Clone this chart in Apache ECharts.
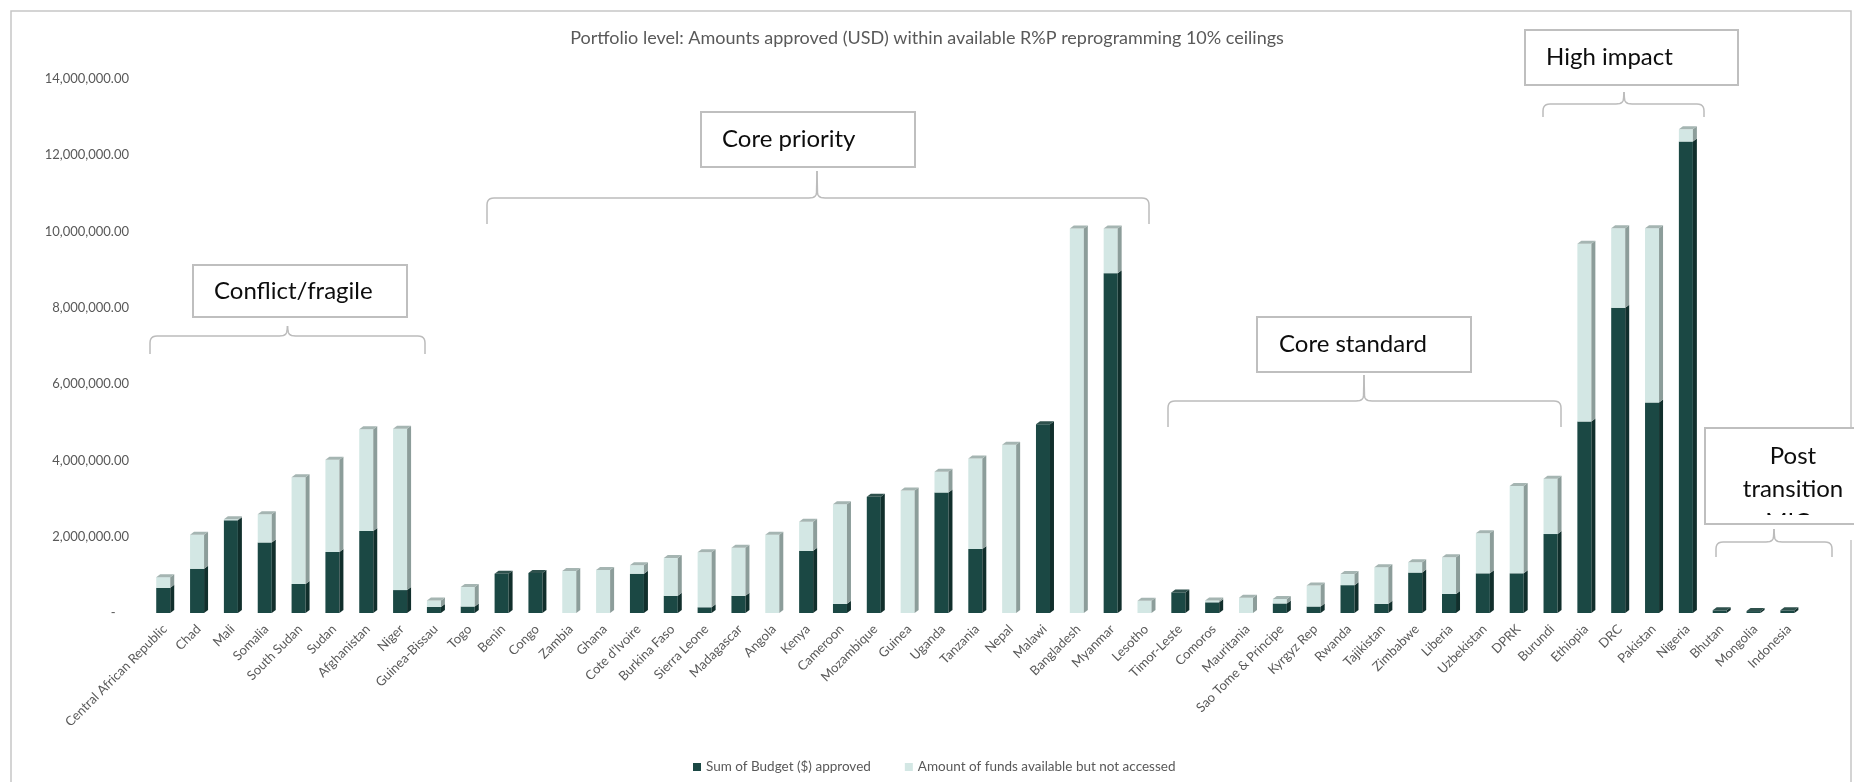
<!DOCTYPE html>
<html>
<head>
<meta charset="utf-8">
<title>Portfolio level: Amounts approved (USD)</title>
<script src="https://cdn.jsdelivr.net/npm/echarts@6/dist/echarts.min.js"></script>
<style>
  html, body { margin: 0; padding: 0; background: #ffffff; }
  #chart { width: 1854px; height: 782px; }
</style>
</head>
<body>
<div id="chart"></div>
<script>
// Countries, ordered by portfolio group
const countries = [
  'Central African Republic', 'Chad', 'Mali', 'Somalia', 'South Sudan', 'Sudan', 'Afghanistan', 'Niger',
  'Guinea-Bissau', 'Togo', 'Benin', 'Congo', 'Zambia', 'Ghana', "Cote d'Ivoire", 'Burkina Faso',
  'Sierra Leone', 'Madagascar', 'Angola', 'Kenya', 'Cameroon', 'Mozambique', 'Guinea', 'Uganda',
  'Tanzania', 'Nepal', 'Malawi', 'Bangladesh', 'Myanmar', 'Lesotho', 'Timor-Leste', 'Comoros',
  'Mauritania', 'Sao Tome & Principe', 'Kyrgyz Rep', 'Rwanda', 'Tajikistan', 'Zimbabwe', 'Liberia',
  'Uzbekistan', 'DPRK', 'Burundi', 'Ethiopia', 'DRC', 'Pakistan', 'Nigeria', 'Bhutan', 'Mongolia', 'Indonesia'
];

// Sum of Budget ($) approved
const budgetApproved = [
  660000, 1160000, 2430000, 1850000, 760000, 1600000, 2150000, 600000,
  160000, 170000, 1030000, 1050000, 0, 0, 1030000, 450000,
  150000, 450000, 0, 1630000, 240000, 3050000, 0, 3160000,
  1680000, 0, 4950000, 0, 8910000, 0, 540000, 280000,
  0, 250000, 170000, 730000, 240000, 1060000, 500000,
  1040000, 1040000, 2070000, 5020000, 8000000, 5520000, 12360000, 70000, 50000, 70000
];

// Amount of funds available but not accessed
const fundsNotAccessed = [
  280000, 890000, 30000, 740000, 2800000, 2420000, 2670000, 4230000,
  170000, 510000, 0, 0, 1100000, 1130000, 220000, 990000,
  1440000, 1260000, 2050000, 760000, 2610000, 0, 3210000, 540000,
  2370000, 4410000, 0, 10080000, 1170000, 320000, 0, 50000,
  400000, 120000, 550000, 290000, 960000, 270000, 960000,
  1050000, 2290000, 1450000, 4660000, 2090000, 4570000, 320000, 0, 0, 0
];

// Y axis tick range
const yMin = 0;
const yMax = 14000000;
const yStep = 2000000;

// Portfolio group annotations: label lines, box and brace geometry
const groups = [
  { lines: ['Conflict/fragile'], box: [193, 265, 214, 52], textX: 214, align: 'left',
    brace: { x1: 150, x2: 425, tip: 287.5, top: 336, hook: 354, peak: 326 } },
  { lines: ['Core priority'], box: [701, 112, 214, 55], textX: 722, align: 'left',
    brace: { x1: 487, x2: 1149, tip: 817, top: 198, hook: 224, peak: 171 } },
  { lines: ['Core standard'], box: [1257, 317, 214, 55], textX: 1279, align: 'left',
    brace: { x1: 1168, x2: 1561, tip: 1364, top: 401, hook: 427, peak: 375 } },
  { lines: ['High impact'], box: [1525, 30, 213, 55], textX: 1546, align: 'left',
    brace: { x1: 1543, x2: 1704, tip: 1624, top: 104, hook: 117, peak: 92 } },
  { lines: ['Post', 'transition', 'MICs'], box: [1705, 428, 160, 96], textX: 1793, align: 'center',
    brace: { x1: 1716, x2: 1832, tip: 1774, top: 542, hook: 557, peak: 529 } }
];

const COLORS = {
  dark: { front: '#1b4844', side: '#112f2c', top: '#2f514d' },
  light: { front: '#d3e7e4', side: '#8c9d9a', top: '#a5b5b2' }
};

// points along a quadratic curve from a through control b to c
function quad(a, b, c, n) {
  const pts = [];
  for (let i = 1; i <= n; i++) {
    const t = i / n, u = 1 - t;
    pts.push([u * u * a[0] + 2 * u * t * b[0] + t * t * c[0], u * u * a[1] + 2 * u * t * b[1] + t * t * c[1]]);
  }
  return pts;
}

// one half of a curly brace, from an outer end to the central peak
function braceHalf(b, dir) {
  const r = 7, t = 5;
  const xe = dir < 0 ? b.x1 : b.x2;
  const s = dir < 0 ? 1 : -1;
  let pts = [[xe, b.hook], [xe, b.top + r]];
  pts = pts.concat(quad([xe, b.top + r], [xe, b.top], [xe + s * r, b.top], 6));
  pts.push([b.tip - s * (t + 3), b.top]);
  pts = pts.concat(quad([b.tip - s * (t + 3), b.top], [b.tip - s * 1, b.top], [b.tip - s * 0.5, b.top - t], 6));
  pts.push([b.tip, b.peak]);
  return pts;
}

// 3D-looking column segment: front face, right side face, and top face on the upper segment
function columnRenderer(palette) {
  return function (params, api) {
    const idx = api.value(0);
    const start = api.value(1);
    const end = api.value(2);
    const isTop = api.value(3) === 1;
    if (end - start <= 0) return null;
    const bw = api.size([1, 0])[0];
    const p0 = api.coord([idx, start]);
    const p1 = api.coord([idx, end]);
    const c = p0[0];
    const x0 = c - bw * 0.257;
    const x1 = c + bw * 0.157;
    const d = bw * 0.118;
    const dy = 3;
    const children = [
      { type: 'rect', shape: { x: x0, y: p1[1], width: x1 - x0, height: p0[1] - p1[1] },
        style: { fill: palette.front } },
      { type: 'polygon', shape: { points: [[x1, p0[1]], [x1, p1[1]], [x1 + d, p1[1] - dy], [x1 + d, p0[1] - dy]] },
        style: { fill: palette.side } }
    ];
    if (isTop) {
      children.push({ type: 'polygon',
        shape: { points: [[x0, p1[1]], [x1, p1[1]], [x1 + d, p1[1] - dy], [x0 + d, p1[1] - dy]] },
        style: { fill: palette.top } });
    }
    return { type: 'group', children: children };
  };
}

const darkData = countries.map((_, i) => [i, 0, budgetApproved[i], fundsNotAccessed[i] > 0 ? 0 : 1]);
const lightData = countries.map((_, i) => [i, budgetApproved[i], budgetApproved[i] + fundsNotAccessed[i], 1]);

function formatAmount(v) {
  if (v === 0) return '-    ';
  return v.toLocaleString('en-US', { minimumFractionDigits: 2, maximumFractionDigits: 2 });
}

const graphics = [
  { type: 'rect', shape: { x: 11, y: 11, width: 1840, height: 800 },
    style: { fill: 'none', stroke: '#c6c6c6', lineWidth: 1.5 }, z: 0, silent: true }
];
groups.forEach(g => {
  const [bx, by, bwid, bh] = g.box;
  graphics.push({ type: 'rect', shape: { x: bx, y: by, width: bwid, height: bh },
    style: { fill: '#ffffff', stroke: 'none' }, z: 10, silent: true });
  const lineH = 33;
  const firstY = g.lines.length > 1 ? by + 28 : by + bh / 2;
  g.lines.forEach((ln, k) => {
    graphics.push({ type: 'text', x: g.textX, y: firstY + k * lineH,
      style: { text: ln, font: '24px Lato', fill: '#0d0d0d', textAlign: g.align, textVerticalAlign: 'middle' },
      z: 11, silent: true });
  });
  if (g.lines.length > 2) {
    // the box is too short for its last line; only its top shows
    graphics.push({ type: 'rect', shape: { x: bx + 1, y: by + 87, width: bwid, height: bh - 87 + 16 },
      style: { fill: '#ffffff' }, z: 12, silent: true });
  }
  graphics.push({ type: 'rect', shape: { x: bx, y: by, width: bwid, height: bh },
    style: { fill: 'none', stroke: '#bfbfbf', lineWidth: 2 }, z: 13, silent: true });
  [-1, 1].forEach(dir => {
    graphics.push({ type: 'polyline', shape: { points: braceHalf(g.brace, dir) },
      style: { fill: 'none', stroke: '#bcbcbc', lineWidth: 1.5 }, z: 14, silent: true });
  });
});

const chart = echarts.init(document.getElementById('chart'), null, { renderer: 'canvas' });
chart.setOption({
  animation: false,
  backgroundColor: '#ffffff',
  textStyle: { fontFamily: 'Lato' },
  title: {
    text: 'Portfolio level: Amounts approved (USD) within available R%P reprogramming 10% ceilings',
    left: 'center', top: 24,
    textStyle: { fontSize: 18, fontWeight: 'normal', color: '#595959', fontFamily: 'Lato' }
  },
  legend: {
    left: 688, top: 755,
    icon: 'rect', itemWidth: 8, itemHeight: 8, itemGap: 34,
    textStyle: { fontSize: 13.5, color: '#595959', fontFamily: 'Lato' },
    data: [
      { name: 'Sum of Budget ($) approved', itemStyle: { color: COLORS.dark.front } },
      { name: 'Amount of funds available but not accessed', itemStyle: { color: COLORS.light.front } }
    ]
  },
  grid: { left: 148, right: 48, top: 79, bottom: 169 },
  xAxis: {
    type: 'category',
    data: countries,
    axisLine: { show: false },
    axisTick: { show: false },
    axisLabel: { interval: 0, rotate: 45, margin: 14, fontSize: 13, color: '#595959', fontFamily: 'Lato' }
  },
  yAxis: {
    type: 'value',
    min: yMin, max: yMax, interval: yStep,
    splitLine: { show: false },
    axisLine: { show: false },
    axisTick: { show: false },
    axisLabel: { margin: 19, fontSize: 13, color: '#595959', fontFamily: 'Lato', formatter: formatAmount }
  },
  series: [
    { name: 'Sum of Budget ($) approved', type: 'custom', renderItem: columnRenderer(COLORS.dark),
      itemStyle: { color: COLORS.dark.front }, encode: { x: 0, y: [1, 2] }, data: darkData, z: 2 },
    { name: 'Amount of funds available but not accessed', type: 'custom', renderItem: columnRenderer(COLORS.light),
      itemStyle: { color: COLORS.light.front }, encode: { x: 0, y: [1, 2] }, data: lightData, z: 3 }
  ],
  graphic: graphics
});
</script>
</body>
</html>
